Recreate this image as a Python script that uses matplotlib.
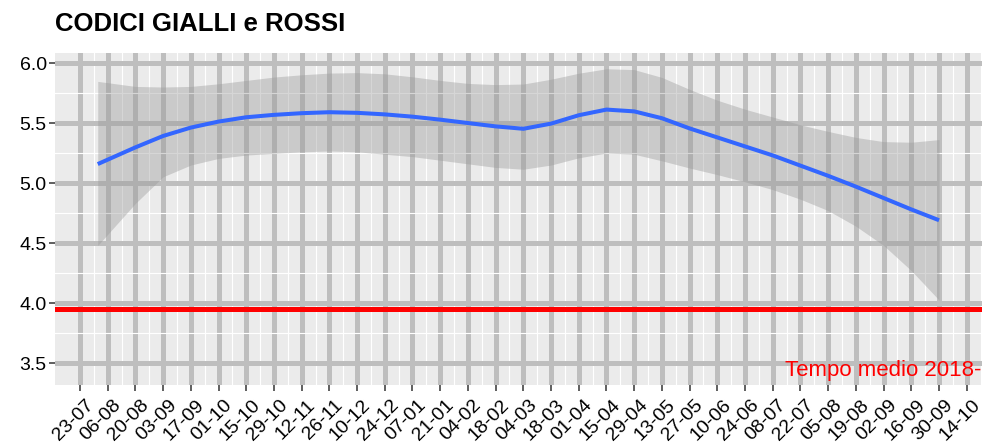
import numpy as np
import pandas as pd
import matplotlib
matplotlib.use("Agg")
import matplotlib.pyplot as plt
import matplotlib.dates as mdates
import matplotlib.transforms as mtransforms

plt.rcParams['font.family'] = ['Liberation Sans', 'DejaVu Sans']

# curva smussata (loess) e banda di confidenza
giorni = ["2018-08-01", "2018-08-20", "2018-09-03", "2018-09-17", "2018-10-01",
          "2018-10-15", "2018-10-29", "2018-11-12", "2018-11-26", "2018-12-10",
          "2018-12-24", "2019-01-07", "2019-01-21", "2019-02-04", "2019-02-18",
          "2019-03-04", "2019-03-18", "2019-04-01", "2019-04-15", "2019-04-29",
          "2019-05-13", "2019-05-27", "2019-06-10", "2019-06-24", "2019-07-08",
          "2019-07-22", "2019-08-05", "2019-08-19", "2019-09-02", "2019-09-16",
          "2019-09-30"]
fit = [5.158, 5.297, 5.392, 5.462, 5.512, 5.548, 5.568, 5.582, 5.59, 5.585,
       5.572, 5.553, 5.528, 5.50, 5.472, 5.452, 5.495, 5.565, 5.612, 5.597,
       5.54, 5.455, 5.38, 5.305, 5.23, 5.145, 5.06, 4.97, 4.875, 4.78, 4.69]
upper = [5.847, 5.805, 5.80, 5.805, 5.827, 5.855, 5.883, 5.902, 5.916, 5.92,
         5.91, 5.885, 5.855, 5.83, 5.82, 5.825, 5.865, 5.915, 5.952, 5.945,
         5.88, 5.78, 5.69, 5.615, 5.55, 5.485, 5.43, 5.38, 5.345, 5.34, 5.362]
lower = [4.48, 4.83, 5.052, 5.15, 5.205, 5.233, 5.247, 5.26, 5.267, 5.26,
         5.24, 5.22, 5.19, 5.16, 5.13, 5.115, 5.15, 5.21, 5.25, 5.24,
         5.185, 5.125, 5.07, 5.01, 4.945, 4.865, 4.77, 4.64, 4.48, 4.27, 4.025]

tempo_medio = 3.95
etichetta = "Tempo medio 2018-2019"
titolo = "CODICI GIALLI e ROSSI"

date = pd.to_datetime(giorni)
tick_date = pd.date_range("2018-07-23", "2019-10-14", freq="14D")
minor_date = tick_date + pd.Timedelta(days=7)

fig = plt.figure(figsize=(9.82, 4.48), dpi=100)
ax = fig.add_axes([55 / 982, 63 / 448, 927 / 982, 332.3 / 448])
ax.set_facecolor("#EBEBEB")

x0 = pd.Timestamp("2018-07-23") - pd.Timedelta(days=12.6)
x1 = pd.Timestamp("2019-10-14") + pd.Timedelta(days=7.7)
ax.set_xlim(x0, x1)
ax.set_ylim(3.317, 6.086)

ax.set_xticks(tick_date)
ax.set_xticks(minor_date, minor=True)
ax.xaxis.set_major_formatter(mdates.DateFormatter("%d-%m"))
ax.set_yticks([3.5, 4.0, 4.5, 5.0, 5.5, 6.0])
ax.set_yticks([3.75, 4.25, 4.75, 5.25, 5.75], minor=True)
ax.yaxis.set_major_formatter(plt.FormatStrFormatter("%.1f"))

ax.grid(which="major", color="#BEBEBE", linewidth=3.6)
ax.grid(which="minor", color="white", linewidth=0.8)
ax.set_axisbelow(True)
for s in ax.spines.values():
    s.set_visible(False)

ax.tick_params(which="major", length=4, width=1.1, color="#333333",
               labelsize=14, labelcolor="black", pad=2)
ax.tick_params(axis="x", labelsize=14, pad=4)
ax.tick_params(which="minor", length=0)
sposta = mtransforms.ScaledTranslation(5 / 100, 0, fig.dpi_scale_trans)
for lab in ax.get_xticklabels():
    lab.set_rotation(45)
    lab.set_ha("right")
    lab.set_va("top")
    lab.set_rotation_mode("anchor")
    lab.set_transform(lab.get_transform() + sposta)

ax.fill_between(date, lower, upper, color="#999999", alpha=0.4, linewidth=0)
ax.plot(date, fit, color="#3366FF", linewidth=2.9, solid_capstyle="butt")
ax.axhline(tempo_medio, color="#FF0000", linewidth=3.6)
ax.text(pd.Timestamp("2019-07-14"), 3.44, etichetta, color="#FF0000",
        fontsize=16, ha="left", va="center", clip_on=False)

fig.text(55 / 982, 1 - 24 / 448, titolo, fontsize=18.5, fontweight="bold",
         ha="left", va="center")

fig.savefig("out.png", dpi=100)
